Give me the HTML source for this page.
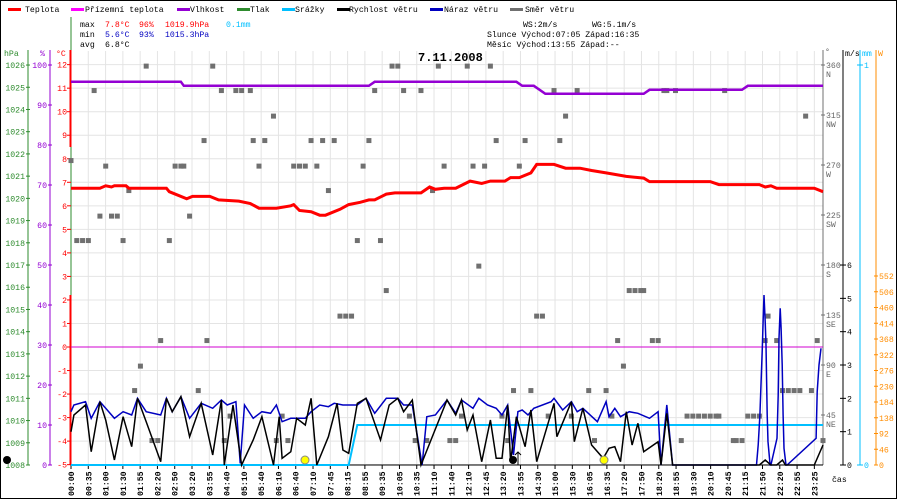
<!DOCTYPE html>
<html><head><meta charset="utf-8"><style>
html,body{margin:0;padding:0;background:#fff}
svg{display:block}
text{font-family:"Liberation Mono","DejaVu Sans Mono",monospace;font-size:8.2px}
</style></head><body>
<svg id="chart" width="900" height="500" viewBox="0 0 900 500" xmlns="http://www.w3.org/2000/svg">
<rect x="0.5" y="0.5" width="896" height="498" fill="#fff" stroke="#000"/>
<g id="grid"></g>
<g id="legend">
 <g><rect x="8" y="8" width="13" height="3" fill="#f00"/><text x="25" y="12">Teplota</text></g>
 <g><rect x="71" y="8" width="13" height="3" fill="#f0f"/><text x="85" y="12">Přízemní teplota</text></g>
 <g><rect x="177" y="8" width="13" height="3" fill="#9400d3"/><text x="190" y="12">Vlhkost</text></g>
 <g><rect x="237" y="8" width="13" height="3" fill="#2e8b2e"/><text x="250" y="12">Tlak</text></g>
 <g><rect x="282" y="8" width="13" height="3" fill="#00bfff"/><text x="295" y="12">Srážky</text></g>
 <g><rect x="337" y="8" width="13" height="3" fill="#000"/><text x="349" y="12">Rychlost větru</text></g>
 <g><rect x="430" y="8" width="13" height="3" fill="#0000c0"/><text x="444" y="12">Náraz větru</text></g>
 <g><rect x="510" y="8" width="13" height="3" fill="#707070"/><text x="525" y="12">Směr větru</text></g>
</g>
<g>
 <text x="80" y="27">max</text><text x="105" y="27" fill="#f00">7.8°C</text><text x="139" y="27" fill="#f00">96%</text><text x="165" y="27" fill="#f00">1019.9hPa</text><text x="226" y="27" fill="#00bfff">0.1mm</text>
 <text x="80" y="37">min</text><text x="105" y="37" fill="#0000c0">5.6°C</text><text x="139" y="37" fill="#0000c0">93%</text><text x="165" y="37" fill="#0000c0">1015.3hPa</text>
 <text x="80" y="47">avg</text><text x="105" y="47">6.8°C</text>
</g>
<g>
 <text x="523" y="27">WS:2m/s</text><text x="592" y="27">WG:5.1m/s</text>
 <text x="487" y="37">Slunce Východ:07:05  Západ:16:35</text>
 <text x="487" y="47">Měsíc  Východ:13:55  Západ:--</text>
</g>
<text x="418" y="61" style="font-size:12px;font-weight:bold">7.11.2008</text>
<g id="axes"></g>
<g id="series"></g>
</svg>
<script>
// ---- data ----
const timeLabels = ["00:00","00:35","01:00","01:30","01:55","02:20","02:50","03:20","03:55","04:40","05:10","05:40","06:10","06:40","07:10","07:45","08:15","08:55","09:35","10:05","10:35","11:10","11:40","12:10","12:45","13:20","13:55","14:30","15:00","15:30","16:05","16:35","17:20","17:50","18:20","18:55","19:30","20:10","20:45","21:15","21:50","22:20","22:55","23:25"];
const tempTicks = [12,11,10,9,8,7,6,5,4,3,2,1,0,-1,-2,-3,-4,-5];
const hpaTicks = [1026,1025,1024,1023,1022,1021,1020,1019,1018,1017,1016,1015,1014,1013,1012,1011,1010,1009,1008];
const humTicks = [100,90,80,70,60,50,40,30,20,10,0];
const dirTicks = [360,315,270,225,180,135,90,45];
const dirNames = ["N","NW","W","SW","S","SE","E","NE"];
const windTicks = [0,1,2,3,4,5,6];
const radTicks = [0,46,92,138,184,230,276,322,368,414,460,506,552];

const tempIdx = [0,10,12,14,15,19,20,33,34,40,42,48,51,58,62,65,71,76,77,79,83,86,88,93,96,100,103,105,109,112,121,124,126,129,133,138,142,145,150,152,155,159,161,167,171,176,180,185,192,198,200,221,224,238,240,242,244,257,260];
const tempVal = [6.75,6.75,6.85,6.8,6.85,6.85,6.75,6.75,6.6,6.3,6.4,6.4,6.25,6.2,6.1,5.9,5.9,6.0,6.05,5.8,5.75,5.6,5.6,5.85,6.05,6.15,6.25,6.25,6.5,6.55,6.55,6.8,6.7,6.75,6.75,7.05,6.95,7.05,7.05,7.2,7.2,7.4,7.76,7.76,7.6,7.6,7.5,7.4,7.25,7.18,7.03,7.03,6.9,6.9,6.8,6.85,6.75,6.75,6.6];

const humIdx = [0,38,39,103,105,154,156,160,164,198,200,232,234,260];
const humVal = [95.8,95.8,94.8,94.8,95.8,95.8,94.8,94.8,92.8,92.8,93.8,93.8,94.8,94.8];

const rainIdx = [0,96,99,260];
const rainVal = [0,0,0.1,0.1];

const speedIdx = [0,1,5,7,10,12,15,18,21,23,26,31,33,35,38,41,45,49,52,53,56,59,63,66,70,72,73,76,78,81,83,85,89,92,94,96,99,102,107,110,113,115,118,121,130,133,135,137,139,142,145,147,149,151,152,154,157,159,161,167,168,173,174,177,180,184,186,188,190,192,194,196,198,203,204,206,208,238,240,242,244,246,247,257,260];
const speedVal = [1.0,1.5,1.8,0.4,1.9,1.35,0.15,1.45,0.55,2.0,1.3,0.1,2.0,1.6,2.05,0.85,1.85,0.3,1.95,0,1.8,0,0.75,1.45,0,1.45,0.2,0.4,1.4,1.2,2.0,0,0.85,1.85,0.45,0.35,1.85,2.0,0.75,1.8,2.0,1.6,1.95,0,1.95,1.5,1.95,1.05,1.5,0.1,1.35,0.2,0.2,1.8,0.1,1.45,0.55,1.65,0.1,1.85,0.85,1.9,0.7,1.7,0.6,0.2,0.5,0.55,0.1,1.6,0.6,1.25,0.4,0.7,0,1.55,0,0,0.15,0,0,0.15,0,0,0.6];

const gustIdx = [0,1,5,7,10,12,15,18,21,23,26,31,33,35,38,41,45,49,52,54,57,58.5,60,63,66,69,71,73,76,78,81,83,86,89,91,94,99,102,105,109,113,115,118,121.4,123,126,130,133,135,139,141,144,147,149,151,153,154.5,156,158,160,166,167,170,173,175,177,182,185,186,188,190,193,196,200,203,204,206,208,237,237.6,238.2,239,239.3,239.6,240,240.3,240.7,241,241.7,242,244.1,244.5,244.8,245.2,245.5,245.9,246.2,246.5,247.2,247.6,257.6,258,258.6,259.3,260];
const gustVal = [1.6,1.8,1.9,1.4,1.9,1.7,1.4,1.6,1.5,2.0,1.6,1.5,2.0,1.6,2.05,1.4,1.85,1.7,1.95,1.8,1.9,0.05,1.8,1.4,1.6,1.55,1.8,1.3,1.4,1.4,1.4,1.6,1.8,1.75,1.85,1.8,1.8,2.0,1.55,2.0,2.0,1.8,1.8,0,1.45,1.5,1.95,1.55,1.95,1.7,2.0,1.8,1.7,1.5,1.8,0.3,1.6,1.65,1.5,1.7,1.9,2.0,1.65,1.9,1.6,1.7,1.3,1.9,1.45,1.7,1.45,1.6,1.55,1.4,1.6,0,1.8,0,0,0.6,1.5,3.5,4.3,5.1,4.3,3.6,1.5,0.7,0,0,0.8,2.1,3.8,4.7,4.1,3.0,1.5,0.5,0,0,0.8,2.2,3.0,3.5];

const dirIdx = [0,2,4,6,8,10,12,14,16,18,20,24,26,31,34,36,38,39,41,46,47,49,52,57,59,63,62,65,67,70,77,79,81,83,85,87,89,91,93,95,97,99,101,103,105,107,109,111,113,115,121,125,127,129,137,145,139,143,141,147,155,157,161,163,167,175,169,171,189,191,193,195,197,198,201,203,205,206,209,226,240,241,244,254,258,131,133,135,149,153,159,151,165,173,179,185,181,187,211,213,215,217,219,221,223,224,229,230,232,234,236,238,246,248,250,252,256,260,22,44,28,30,53,55,71,73,75,117,119,123];
const dirVal = [274,202,202,202,337,224,269,224,224,202,247,89,359,112,202,269,269,269,224,292,112,359,337,337,337,292,337,269,292,314,269,269,269,292,269,292,247,292,134,134,134,202,269,292,337,202,157,359,359,337,337,247,359,269,359,359,269,269,179,292,269,292,134,134,337,337,292,314,112,89,157,157,157,157,112,112,337,337,337,337,112,134,112,314,112,22,22,44,44,67,67,22,44,44,67,67,22,44,22,44,44,44,44,44,44,44,22,22,22,44,44,44,67,67,67,67,67,22,67,67,22,22,22,44,22,44,22,44,22,22];

// ---- scales ----
const X0=71, X1=823, NMAX=260;
const xS = i => X0 + i*(X1-X0)/NMAX;
const yT = t => 347 - t*23.53;
const yH = h => 465 - h*4;
const yHpa = p => 465 - (p-1008)*22.22;
const yW = v => 465 - v*33.33;
const yD = d => 465 - d*400/360;
const yR = r => 465 - r*400;
const yRad = w => 465 - w*189/552;

const NS="http://www.w3.org/2000/svg";
function mk(tag, attrs, parent, txt){const e=document.createElementNS(NS,tag);for(const k in attrs)e.setAttribute(k,attrs[k]);if(txt!==undefined)e.textContent=txt;parent.appendChild(e);return e;}
const grid=document.getElementById('grid'), axes=document.getElementById('axes'), series=document.getElementById('series');

// grid
tempTicks.forEach(t=>{const l=mk('line',{x1:X0,x2:X1,y1:yT(t),y2:yT(t),stroke:'#e4e4e4'},grid);

});
timeLabels.forEach((s,k)=>{const x=xS(k*NMAX/43.5);const l=mk('line',{x1:x,x2:x,y1:51,y2:465,stroke:'#e4e4e4'},grid);


const t=mk('text',{transform:`translate(${x+3},496) rotate(-90)`,'font-weight':'bold'},axes,s);


mk('line',{x1:x,x2:x,y1:465,y2:469,stroke:'#000'},axes);});
mk('text',{x:832,y:482},axes,'čas');

// left axes
mk('line',{x1:71,x2:71,y1:17,y2:465,stroke:'#2e8b2e'},axes);
mk('line',{x1:70.5,x2:70.5,y1:50,y2:147,stroke:'#f00',"stroke-width":2},axes);
mk('line',{x1:70.5,x2:70.5,y1:295,y2:465,stroke:'#f00',"stroke-width":2},axes);
mk('line',{x1:28,x2:28,y1:50,y2:465,stroke:'#2e8b2e'},axes);
mk('line',{x1:50,x2:50,y1:50,y2:465,stroke:'#9400d3'},axes);
mk('text',{x:4,y:56,fill:'#2e8b2e'},axes,'hPa');
mk('text',{x:40,y:56,fill:'#9400d3'},axes,'%');
mk('text',{x:56,y:56,fill:'#f00'},axes,'°C');
hpaTicks.forEach(p=>{const y=yHpa(p);mk('line',{x1:26,x2:30,y1:y,y2:y,stroke:'#2e8b2e'},axes);
const t=mk('text',{x:25,y:y+3,'text-anchor':'end',fill:'#2e8b2e'},axes,p);

});
humTicks.forEach(h=>{const y=yH(h);mk('line',{x1:48,x2:52,y1:y,y2:y,stroke:'#9400d3'},axes);
const t=mk('text',{x:47,y:y+3,'text-anchor':'end',fill:'#9400d3'},axes,h);

});
tempTicks.forEach(v=>{const y=yT(v);mk('line',{x1:67,x2:71,y1:y,y2:y,stroke:'#f00'},axes);
const t=mk('text',{x:67,y:y+3,'text-anchor':'end',fill:'#f00'},axes,v);

});

// right axes
mk('line',{x1:823,x2:823,y1:50,y2:465,stroke:'#707070'},axes);
mk('line',{x1:843,x2:843,y1:50,y2:465,stroke:'#000'},axes);
mk('line',{x1:860,x2:860,y1:50,y2:465,stroke:'#00bfff'},axes);
mk('line',{x1:876,x2:876,y1:50,y2:465,stroke:'#ff8c00'},axes);
mk('text',{x:825,y:54,fill:'#555'},axes,'°');
mk('text',{x:845,y:56},axes,'m/s');
mk('text',{x:862,y:56,fill:'#00bfff'},axes,'mm');
mk('text',{x:878,y:56,fill:'#ff8c00'},axes,'W');
dirTicks.forEach((d,i)=>{const y=yD(d);mk('line',{x1:821,x2:825,y1:y,y2:y,stroke:'#707070'},axes);
const t=mk('text',{x:826,y:y+3,fill:'#666'},axes,d);


mk('text',{x:826,y:y+12,fill:'#666'},axes,dirNames[i]);});
windTicks.forEach(v=>{const y=yW(v);mk('line',{x1:840,x2:846,y1:y,y2:y,stroke:'#000'},axes);
const t=mk('text',{x:847,y:y+3},axes,v);

});
[0,1].forEach(v=>{const y=yR(v);mk('line',{x1:857,x2:863,y1:y,y2:y,stroke:'#00bfff'},axes);
const t=mk('text',{x:864,y:y+3,fill:'#00bfff'},axes,v);

});
radTicks.forEach(v=>{const y=yRad(v);mk('line',{x1:874,x2:878,y1:y,y2:y,stroke:'#ff8c00'},axes);
const t=mk('text',{x:879,y:y+3,fill:'#ff8c00'},axes,v);

});

// zero line & baseline
mk('line',{x1:X0,x2:X1,y1:yT(0),y2:yT(0),stroke:'#d000d0'},series);
mk('line',{x1:X0,x2:X1,y1:465,y2:465,stroke:'#000'},series);

// series
function pts(idx,val,yf){return idx.map((i,k)=>xS(i).toFixed(1)+','+yf(val[k]).toFixed(1)).join(' ');}
dirIdx.forEach((i,k)=>{const r=mk('rect',{x:xS(i)-2.5,y:yD(dirVal[k])-2.5,width:5,height:5,fill:'#707070'},series);

});
const rain=mk('polyline',{points:pts(rainIdx,rainVal,yR),fill:'none',stroke:'#00bfff','stroke-width':2},series);


const gust=mk('polyline',{points:pts(gustIdx,gustVal,yW),fill:'none',stroke:'#0000c0','stroke-width':1.5},series);


const spd=mk('polyline',{points:pts(speedIdx,speedVal,yW),fill:'none',stroke:'#000','stroke-width':1.5},series);


const hum=mk('polyline',{points:pts(humIdx,humVal,yH),fill:'none',stroke:'#9400d3','stroke-width':2.5},series);


const tmp=mk('polyline',{points:pts(tempIdx,tempVal,yT),fill:'none',stroke:'#f00','stroke-width':3},series);



// sun / moon markers
mk('circle',{cx:7,cy:460,r:4,fill:'#000'},series);
mk('circle',{cx:305,cy:460,r:4,fill:'#ffff00',stroke:'#888'},series);
mk('circle',{cx:513,cy:460,r:4,fill:'#000'},series);
mk('circle',{cx:604,cy:460,r:4,fill:'#ffff00',stroke:'#888'},series);
mk('path',{d:'M518,465 L518,452 M515,455 L518,452 L521,455',stroke:'#000',fill:'none'},series);
</script>
</body></html>
